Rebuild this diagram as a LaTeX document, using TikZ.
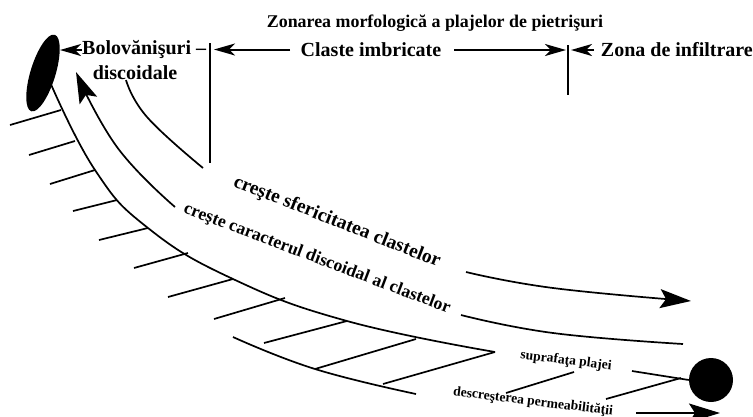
\documentclass[tikz,border=0pt]{standalone}
\usepackage{fontspec}
\setmainfont{Liberation Serif}
\usetikzlibrary{arrows.meta,shapes.geometric}

\begin{document}
\begin{tikzpicture}[
  x=1pt,y=-1pt,
  lbl/.style={font=\bfseries\fontsize{20}{22}\selectfont,align=center,inner sep=0pt},
  lblsmall/.style={font=\bfseries\fontsize{13.6}{15}\selectfont,inner sep=0pt},
  ln/.style={line width=1.7pt},
  curve/.style={smooth,tension=.75},
  bigarrow/.style={ln,-{Stealth[length=31pt,width=19pt,inset=6pt]}},
  zonearrow/.style={line width=2pt,-{Stealth[length=21pt,width=12pt,inset=6pt]}},
  clast/.style={fill=black,draw=none,inner sep=0pt}
]
\clip (0,0) rectangle (753,416);

% titles and zones
\node[lbl,font=\bfseries\fontsize{17.9}{20}\selectfont] (title) at (435,23) {Zonarea morfologică a plajelor de pietrişuri};
\node[lbl,anchor=west] (bolov) at (82,50) {Bolovănişuri --};
\node[lbl] (disc) at (135,73) {discoidale};
\node[lbl] (claste) at (371,50) {Claste imbricate};
\node[lbl,anchor=east] (infil) at (753,50) {Zona de infiltrare};

% clasts
\node[clast,ellipse,minimum width=80pt,minimum height=25pt,rotate=73] (disk) at (43,73) {};
\node[clast,circle,minimum size=44pt] (ball) at (711,380) {};

% zone limits
\coordinate (limA1) at (210,43);
\coordinate (limA2) at (210,163);
\coordinate (limB1) at (568,45);
\coordinate (limB2) at (568,95);
\draw[line width=1.9pt] (limA1) -- (limA2);
\draw[line width=1.9pt] (limB1) -- (limB2);
\coordinate (bolovtip) at (60,50);
\coordinate (clA) at (290,49.5);
\coordinate (clAtip) at (214,49.5);
\coordinate (clB) at (454,50);
\coordinate (clBtip) at (566,50);
\coordinate (zo) at (594,50);
\coordinate (zotip) at (571,50);
\draw[zonearrow] (bolov.west) -- (bolovtip);
\draw[zonearrow] (clA) -- (clAtip);
\draw[zonearrow] (clB) -- (clBtip);
\draw[zonearrow] (zo) -- (zotip);

% long curved lines
\draw[bigarrow] plot[curve] coordinates {(175,207) (117,147) (76,72)};
\draw[ln] plot[curve] coordinates {(126,80) (147,117) (203,168)};
\draw[bigarrow] plot[curve] coordinates {(466,272) (553,288) (691,301)};
\draw[ln] plot[curve] coordinates {(461,315) (553,333) (683,344)};

% sloping labels
\node[lbl,rotate=-21.5,font=\bfseries\fontsize{19.5}{21}\selectfont] (sfer) at (337,222) {creşte sfericitatea clastelor};
\node[lbl,rotate=-20.8,font=\bfseries\fontsize{17.7}{19}\selectfont] (cardisc) at (317,259) {creşte caracterul discoidal al clastelor};
\node[lblsmall,rotate=-7] (supraf) at (566,361) {suprafaţa plajei};
\node[lblsmall,rotate=-7] (descr) at (533,402) {descreşterea permeabilităţii};

% beach profile
\draw[ln] plot[curve] coordinates {(50,82) (95,170) (148,228) (233,279) (347,321) (495,352)};
\draw[ln] plot[curve] coordinates {(233,337) (315,369) (416,394)};
\draw[ln] (495,352) -- (383,384);
\draw[ln] (315,369) -- (416,339);

% ticks under the profile
\foreach \xa/\ya/\xb/\yb in {61/110/10/125, 75/141/29/155, 95/170/50/184, 117/200/73/211,
  148/228/99/240, 188/253/134/268, 233/279/168/297, 285/298/214/319, 347/321/264/343}
  \draw[ln] (\xa,\ya) -- (\xb,\yb);

% lines near the round clast
\coordinate (perm) at (636,413);
\coordinate (permtip) at (720,413);
\draw[ln] (574,372) -- (506,393);
\draw[ln] (632,371) -- (ball.west);
\draw[ln] (606,399) -- (681,378);
\draw[bigarrow] (perm) -- (permtip);
\end{tikzpicture}
\end{document}
